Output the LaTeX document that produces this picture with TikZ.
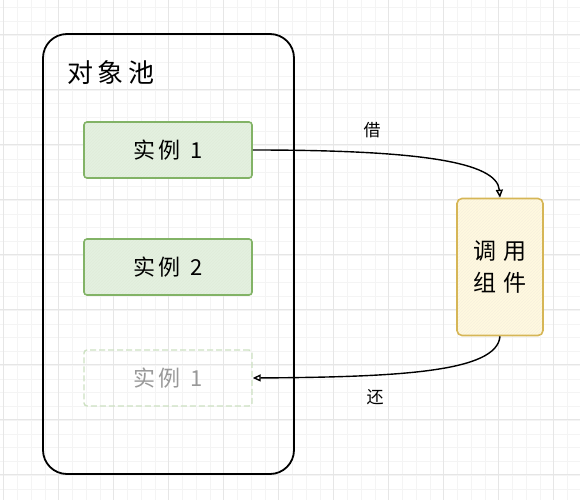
\documentclass[tikz,border=0pt]{standalone}
\usepackage{fontspec}
\newfontfamily\cjk{Noto Sans CJK SC}
\usetikzlibrary{patterns,arrows.meta}
\definecolor{gridminor}{RGB}{244,244,244}
\definecolor{gridmajor}{RGB}{230,230,230}
\definecolor{grnline}{RGB}{130,179,102}
\definecolor{grnfill}{RGB}{228,241,224}
\definecolor{ylwline}{RGB}{214,182,86}
\definecolor{ylwfill}{RGB}{255,249,224}
\tikzset{
  inst/.style={draw=grnline, line width=1.6pt, rounded corners=3pt, preaction={fill=grnfill}, pattern=north east lines, pattern color=grnline!25, minimum width=168pt, minimum height=56pt, font=\cjk\fontsize{22}{26}\selectfont, text=black},
  ghost/.style={draw=grnline!40, dash pattern=on 6pt off 3pt, line width=1.4pt, rounded corners=3pt, minimum width=168pt, minimum height=56pt, font=\cjk\fontsize{22}{26}\selectfont, text=black!40},
  comp/.style={draw=ylwline, line width=1.6pt, rounded corners=5pt, preaction={fill=ylwfill}, pattern=north east lines, pattern color=ylwline!20, minimum width=86pt, minimum height=137pt, font=\cjk\fontsize{23}{32}\selectfont, align=center},
  pool/.style={draw=black, line width=1.8pt, rounded corners=24pt},
  lbl/.style={font=\cjk\fontsize{17}{19}\selectfont},
  flow/.style={draw=black, line width=1.4pt, -{Triangle[open,length=8pt,width=7pt]}}
}
\begin{document}
\begin{tikzpicture}[x=1pt,y=-1pt]
\useasboundingbox (0,0) rectangle (580,500);
\fill[white] (0,0) rectangle (580,500);
\foreach \i in {0,...,42} {
  \draw[gridminor, line width=0.5pt] ({\i*13.75+3.5},0) -- ({\i*13.75+3.5},500);
}
\foreach \i in {0,...,37} {
  \draw[gridminor, line width=0.5pt] (0,{\i*13.75+7.5}) -- (580,{\i*13.75+7.5});
}
\foreach \i in {0,...,10} {
  \draw[gridmajor, line width=0.6pt] ({\i*55+3.5},0) -- ({\i*55+3.5},500);
}
\foreach \i in {0,...,9} {
  \draw[gridmajor, line width=0.6pt] (0,{\i*55+34}) -- (580,{\i*55+34});
}
\draw[pool] (43,34) rectangle (294,474);
\node[anchor=west, font=\cjk\fontsize{26}{30}\selectfont] (title) at (64,73) {对\,象\,池};
\node[inst] (i1) at (168,150) {实\,例\;\,1};
\node[inst] (i2) at (168,267) {实\,例\;\,2};
\node[ghost] (i3) at (168,378) {实\,例\;\,1};
\node[comp] (c) at (500,267) {调\;用\\组\;件};
\draw[flow] (i1.east) .. controls (420,150) and (497,162) .. (c.north);
\draw[flow] (c.south) .. controls (497,372) and (400,377) .. (i3.east);
\node[lbl] (jie) at (372,130) {借};
\node[lbl] (huan) at (375,397) {还};
\end{tikzpicture}
\end{document}
